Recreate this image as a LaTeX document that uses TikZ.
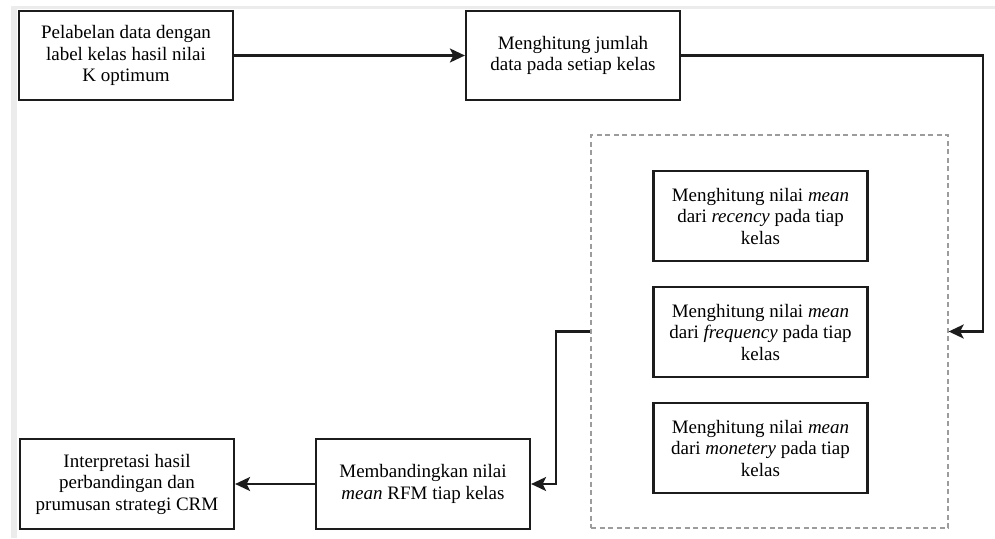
\documentclass[tikz,border=0pt]{standalone}
\usepackage{fontspec}
\setmainfont{Liberation Serif}
\usepackage{xcolor}
\usepackage{tikz}
\usetikzlibrary{arrows.meta}
\definecolor{linie}{HTML}{1C1C1C}
\definecolor{strich}{HTML}{9C9C9C}
\definecolor{rand}{HTML}{ECECEC}

\begin{document}
\begin{tikzpicture}[x=1pt, y=-1pt,
    kasten/.style={draw=linie, line width=2.2pt, minimum width=214pt, minimum height=89pt,
      inner sep=0pt, align=center, text=black, font=\fontsize{19}{21.5}\selectfont},
    pfeil/.style={draw=linie, line width=2.2pt, -{Stealth[length=15pt, width=14pt, inset=3.5pt]}}
]
  \useasboundingbox (0,0) rectangle (995,538);

  % Bildschirmrand links und oben
  \fill[rand] (11,6) rectangle (17,538);
  \fill[rand] (11,6) rectangle (995,9);

  % obere Reihe
  \node[kasten] (label) at (126,55.5) {Pelabelan data dengan\\label kelas hasil nilai\\K optimum};
  \node[kasten] (jumlah) at (573,55.5) {Menghitung jumlah\\data pada setiap kelas};

  % Gruppe mit gestricheltem Rahmen
  \node[draw=strich, line width=1.3pt, dash pattern=on 5pt off 3.5pt,
        minimum width=357pt, minimum height=393pt] (gruppe) at (769.5,331.5) {};
  \node[kasten, minimum height=90pt] (recency) at (760.5,216)
    {Menghitung nilai \textit{mean}\\dari \textit{recency} pada tiap\\kelas};
  \node[kasten, minimum height=90pt] (frequency) at (760.5,332)
    {Menghitung nilai \textit{mean}\\dari \textit{frequency} pada tiap\\kelas};
  \node[kasten, minimum height=90pt] (monetery) at (760.5,448)
    {Menghitung nilai \textit{mean}\\dari \textit{monetery} pada tiap\\kelas};

  % untere Reihe
  \node[kasten, minimum height=90pt] (banding) at (423,484)
    {Membandingkan nilai\\\textit{mean} RFM tiap kelas};
  \node[kasten, minimum height=90pt] (interpretasi) at (127,484)
    {Interpretasi hasil\\perbandingan dan\\prumusan strategi CRM};

  % Verbindungen
  \coordinate (rechts) at (983,55.5);
  \coordinate (links) at (556,331.5);
  \draw[pfeil] (label) -- (jumlah);
  \draw[pfeil] (jumlah.east) -- (rechts) |- (gruppe.east);
  \draw[pfeil] (gruppe.west) -- (links) |- (banding.east);
  \draw[pfeil] (banding) -- (interpretasi);

\end{tikzpicture}
\end{document}
